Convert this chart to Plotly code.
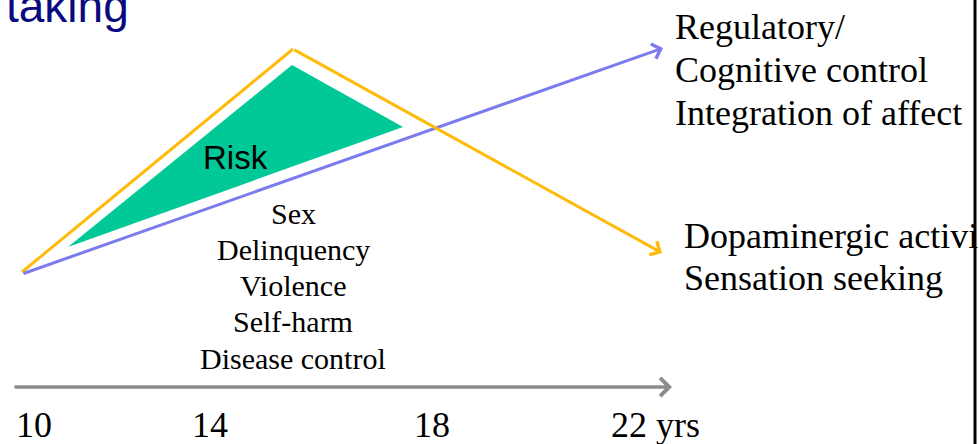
import plotly.graph_objects as go

# schematic diagram, units match the 979x444 canvas (y grows downward)
age_labels = ["10", "14", "18", "22 yrs"]
age_pos = [34, 210, 432, 655]

risk_behaviours = ["Sex", "Delinquency", "Violence", "Self-harm", "Disease control"]
control_labels = ["Regulatory/", "Cognitive control", "Integration of affect"]
reward_labels = ["Dopaminergic activi", "Sensation seeking"]

# dopaminergic / sensation seeking curve (orange)
reward_x = [22, 293, 662]
reward_y = [272, 49, 253]
# regulatory / cognitive control line (blue)
control_x = [22, 663]
control_y = [274, 48]
# risk-taking gap (green)
risk_x = [68, 292, 403]
risk_y = [247, 65, 127]
# age axis
axis_x = [13, 672]
axis_y = [387, 387]

ORANGE = "#FFBA0A"
BLUE = "#7B7BEE"
GREEN = "#00C896"
SERIF = "Liberation Serif"
SANS = "Liberation Sans"

fig = go.Figure()

fig.add_trace(go.Scatter(
    x=risk_x, y=risk_y, fill="toself", fillcolor=GREEN,
    mode="lines", line=dict(width=0), hoverinfo="skip", showlegend=False,
))
fig.add_trace(go.Scatter(
    x=reward_x[:2], y=reward_y[:2], mode="lines",
    line=dict(color=ORANGE, width=3), hoverinfo="skip", showlegend=False,
))

def arrow(x0, y0, x1, y1, color, width):
    fig.add_annotation(
        x=x1, y=y1, ax=x0, ay=y0, xref="x", yref="y", axref="x", ayref="y",
        text="", showarrow=True, arrowhead=4, arrowsize=1, arrowwidth=width,
        arrowcolor=color, standoff=0, startstandoff=0,
    )

arrow(axis_x[0], axis_y[0], axis_x[1], axis_y[1], "#8C8C8C", 3.5)
arrow(control_x[0], control_y[0], control_x[1], control_y[1], BLUE, 3)
arrow(reward_x[1], reward_y[1], reward_x[2], reward_y[2], ORANGE, 3)

def label(x, y, txt, size, family, color="black", anchor="left"):
    fig.add_annotation(
        x=x, y=y, xref="x", yref="y", text=txt, showarrow=False,
        xanchor=anchor, yanchor="middle",
        font=dict(family=family, size=size, color=color),
    )

# title is cut off at the top edge in the original slide crop
label(4, 6, "taking", 46, SANS, "#0A0A80")
label(235, 157, "Risk", 33, SANS, anchor="center")

for i, t in enumerate(risk_behaviours):
    label(293, 213 + i * 36.3, t, 30, SERIF, anchor="center")

for i, t in enumerate(control_labels):
    label(673, 27 + i * 43, t, 36, SERIF)
for i, t in enumerate(reward_labels):
    label(682, 236 + i * 42, t, 36, SERIF)

for p, t in zip(age_pos, age_labels):
    label(p, 425, t, 36, SERIF, anchor="center")

# slide edge
fig.add_shape(type="line", x0=975, x1=975, y0=0, y1=444, xref="x", yref="y",
              line=dict(color="black", width=3))

fig.update_xaxes(range=[0, 979], visible=False)
fig.update_yaxes(range=[444, 0], visible=False)
fig.update_layout(
    width=979, height=444, margin=dict(l=0, r=0, t=0, b=0),
    plot_bgcolor="white", paper_bgcolor="white",
)
fig.write_html(
    "out.html",
    config={"displayModeBar": False},
    post_script="document.body.style.margin='0';document.body.style.overflow='hidden';",
)
